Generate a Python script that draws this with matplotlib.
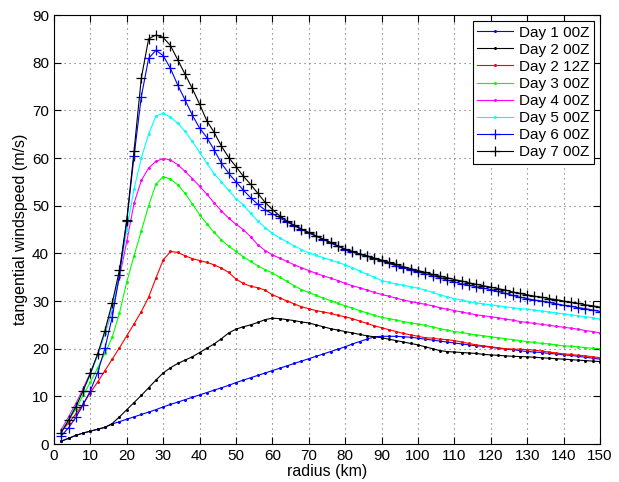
import numpy as np
import matplotlib.pyplot as plt

plt.rcParams['font.family'] = ['Liberation Sans', 'DejaVu Sans']

# radius points every 2 km
radius = np.arange(2, 151, 2)

day1_00z = [0.6, 1.2, 1.8, 2.3, 2.7, 3.1, 3.5, 4.2, 4.7, 5.2,
            5.7, 6.2, 6.7, 7.2, 7.8, 8.3, 8.8, 9.3, 9.8, 10.3,
            10.8, 11.3, 11.8, 12.3, 12.9, 13.4, 13.9, 14.4, 14.9, 15.4,
            15.9, 16.4, 16.9, 17.4, 17.9, 18.4, 18.9, 19.4, 19.9, 20.4,
            21.0, 21.5, 22.0, 22.5, 22.6, 22.6, 22.6, 22.5, 22.4, 22.2,
            22.0, 21.8, 21.6, 21.4, 21.2, 21.0, 20.8, 20.6, 20.5, 20.3,
            20.1, 19.9, 19.8, 19.6, 19.4, 19.3, 19.2, 19.0, 18.9, 18.7,
            18.6, 18.4, 18.2, 18.0, 17.8]

day2_00z = [0.6, 1.2, 1.8, 2.3, 2.7, 3.1, 3.5, 4.3, 5.7, 7.2,
            8.7, 10.2, 11.8, 13.4, 14.9, 16.0, 16.9, 17.6, 18.3, 19.2,
            20.1, 21.0, 22.1, 23.3, 24.1, 24.6, 25.0, 25.5, 26.1, 26.4,
            26.3, 26.1, 25.9, 25.6, 25.4, 25.0, 24.6, 24.2, 23.9, 23.6,
            23.3, 23.0, 22.7, 22.5, 22.3, 22.0, 21.7, 21.4, 21.1, 20.8,
            20.4, 20.0, 19.6, 19.4, 19.3, 19.2, 19.1, 19.0, 18.8, 18.7,
            18.6, 18.5, 18.4, 18.35, 18.3, 18.2, 18.1, 18.0, 17.9, 17.8,
            17.7, 17.6, 17.5, 17.4, 17.3]

day2_12z = [2.6, 4.4, 6.3, 8.4, 10.8, 13.0, 15.4, 17.8, 20.2, 22.7,
            25.2, 27.8, 30.8, 34.8, 38.6, 40.4, 40.2, 39.5, 38.9, 38.5,
            38.1, 37.6, 36.9, 36.0, 34.6, 33.7, 33.1, 32.8, 32.3, 31.3,
            30.7, 30.0, 29.4, 28.8, 28.4, 28.0, 27.7, 27.4, 27.0, 26.7,
            26.3, 25.8, 25.3, 24.8, 24.4, 24.0, 23.6, 23.2, 22.9, 22.6,
            22.3, 22.2, 22.0, 21.9, 21.7, 21.4, 21.1, 20.8, 20.6, 20.4,
            20.2, 20.0, 19.9, 19.9, 19.8, 19.7, 19.5, 19.3, 19.1, 18.9,
            18.8, 18.6, 18.5, 18.3, 18.1]

day3_00z = [2.4, 5.0, 7.3, 10.2, 13.0, 16.0, 19.0, 22.4, 27.5, 34.0,
            39.5, 44.7, 50.0, 54.5, 56.1, 55.6, 54.4, 52.6, 50.4, 48.1,
            46.2, 44.4, 42.8, 41.5, 40.4, 39.3, 38.3, 37.4, 36.6, 35.9,
            35.0, 34.1, 33.2, 32.4, 31.8, 31.2, 30.6, 30.1, 29.5, 29.0,
            28.5, 28.0, 27.5, 27.0, 26.6, 26.3, 26.0, 25.7, 25.4, 25.2,
            24.9, 24.6, 24.2, 23.9, 23.6, 23.4, 23.1, 22.9, 22.7, 22.5,
            22.3, 22.1, 21.9, 21.7, 21.5, 21.3, 21.1, 21.0, 20.8, 20.6,
            20.5, 20.4, 20.2, 20.1, 20.0]

day4_00z = [3.0, 5.7, 8.5, 11.6, 15.0, 18.8, 23.2, 28.0, 35.0, 42.5,
            50.5, 55.3, 57.9, 59.3, 59.9, 59.6, 58.6, 57.2, 55.7, 54.1,
            52.4, 50.6, 48.9, 47.4, 46.1, 45.0, 43.5, 41.8, 40.6, 39.7,
            39.0, 38.3, 37.6, 37.0, 36.4, 35.8, 35.3, 34.8, 34.3, 33.7,
            33.2, 32.8, 32.3, 31.8, 31.4, 31.0, 30.6, 30.2, 29.9, 29.6,
            29.3, 29.0, 28.6, 28.3, 28.0, 27.7, 27.4, 27.1, 26.9, 26.7,
            26.5, 26.2, 26.0, 25.7, 25.5, 25.3, 25.1, 24.9, 24.7, 24.5,
            24.3, 24.1, 23.8, 23.6, 23.3]

day5_00z = [2.6, 5.2, 8.0, 11.2, 14.6, 18.6, 23.2, 28.5, 35.5, 45.0,
            53.5, 60.0, 65.0, 68.8, 69.4, 68.6, 67.3, 65.6, 63.5, 61.2,
            58.9, 56.7, 55.0, 53.2, 51.5, 50.2, 48.4, 46.8, 45.4, 44.2,
            43.3, 42.4, 41.6, 40.8, 40.1, 39.6, 39.1, 38.6, 38.1, 37.6,
            37.0, 36.3, 35.6, 35.0, 34.3, 33.9, 33.6, 33.3, 33.0, 32.7,
            32.3, 31.8, 31.3, 30.9, 30.5, 30.2, 29.9, 29.6, 29.4, 29.2,
            29.0, 28.8, 28.6, 28.4, 28.3, 28.1, 27.9, 27.7, 27.5, 27.3,
            27.1, 26.9, 26.7, 26.5, 26.2]

day6_00z = [1.7, 3.4, 5.6, 8.2, 11.2, 15.0, 20.1, 26.6, 35.5, 46.8,
            60.4, 72.9, 80.9, 82.6, 81.5, 78.8, 75.3, 72.2, 69.0, 66.3,
            64.3, 61.7, 58.9, 56.8, 55.0, 53.3, 51.7, 50.3, 49.1, 48.3,
            47.5, 46.6, 45.8, 45.0, 44.3, 43.6, 42.9, 42.2, 41.5, 40.8,
            40.3, 39.8, 39.4, 38.9, 38.4, 37.9, 37.4, 37.0, 36.5, 36.1,
            35.7, 35.3, 34.9, 34.4, 34.0, 33.6, 33.3, 33.0, 32.7, 32.4,
            32.0, 31.6, 31.2, 30.8, 30.5, 30.2, 30.0, 29.7, 29.4, 29.1,
            28.9, 28.6, 28.4, 28.1, 27.8]

day7_00z = [2.4, 5.0, 7.8, 11.2, 14.8, 18.9, 23.8, 29.6, 36.5, 47.0,
            61.5, 76.8, 85.0, 85.8, 85.3, 83.6, 80.6, 77.6, 74.6, 71.3,
            67.8, 65.4, 62.5, 60.1, 58.2, 56.2, 54.5, 52.6, 50.7, 49.2,
            47.9, 46.8, 45.9, 45.1, 44.4, 43.7, 43.0, 42.3, 41.6, 40.9,
            40.4, 39.9, 39.5, 39.0, 38.6, 38.1, 37.7, 37.2, 36.8, 36.4,
            36.0, 35.6, 35.2, 34.9, 34.5, 34.2, 33.8, 33.5, 33.2, 32.9,
            32.6, 32.3, 31.9, 31.6, 31.3, 31.0, 30.8, 30.5, 30.3, 30.0,
            29.7, 29.5, 29.2, 29.0, 28.7]

labels = ['Day 1 00Z', 'Day 2 00Z', 'Day 2 12Z', 'Day 3 00Z',
          'Day 4 00Z', 'Day 5 00Z', 'Day 6 00Z', 'Day 7 00Z']
series = [day1_00z, day2_00z, day2_12z, day3_00z,
          day4_00z, day5_00z, day6_00z, day7_00z]
colors = ['#0000ff', '#000000', '#ff0000', '#00ff00',
          '#ff00ff', '#00ffff', '#0000ff', '#000000']
markers = ['.', '.', '.', '.', '.', '.', '+', '+']

fig = plt.figure(figsize=(6.19, 4.82), dpi=100)
ax = fig.add_axes([0.0872, 0.0788, 0.882, 0.890])

for vals, lab, c, m in zip(series, labels, colors, markers):
    ms = 7.5 if m == '+' else 2.5
    ax.plot(radius, vals, color=c, marker=m, markersize=ms,
            linewidth=0.8, markeredgewidth=0.9, label=lab)

ax.set_xlim(0, 150)
ax.set_ylim(0, 90)
ax.set_xticks(np.arange(0, 151, 10))
ax.set_yticks(np.arange(0, 91, 10))
ax.grid(True, linestyle=(0, (1, 3.5)), color='#666666', linewidth=0.8)
ax.tick_params(direction='in', top=True, right=True, length=5,
               labelsize=11, width=0.8)
for s in ax.spines.values():
    s.set_linewidth(0.8)

ax.set_xlabel('radius (km)', fontsize=11.5, labelpad=1)
ax.set_ylabel('tangential windspeed (m/s)', fontsize=11.5, labelpad=3)

leg = ax.legend(loc='upper right', fontsize=11, fancybox=False,
                edgecolor='black', framealpha=1, handlelength=2.3,
                borderaxespad=0.4, labelspacing=0.2, handletextpad=0.4,
                borderpad=0.3)
leg.get_frame().set_linewidth(0.8)

fig.savefig('out.png', dpi=100)
